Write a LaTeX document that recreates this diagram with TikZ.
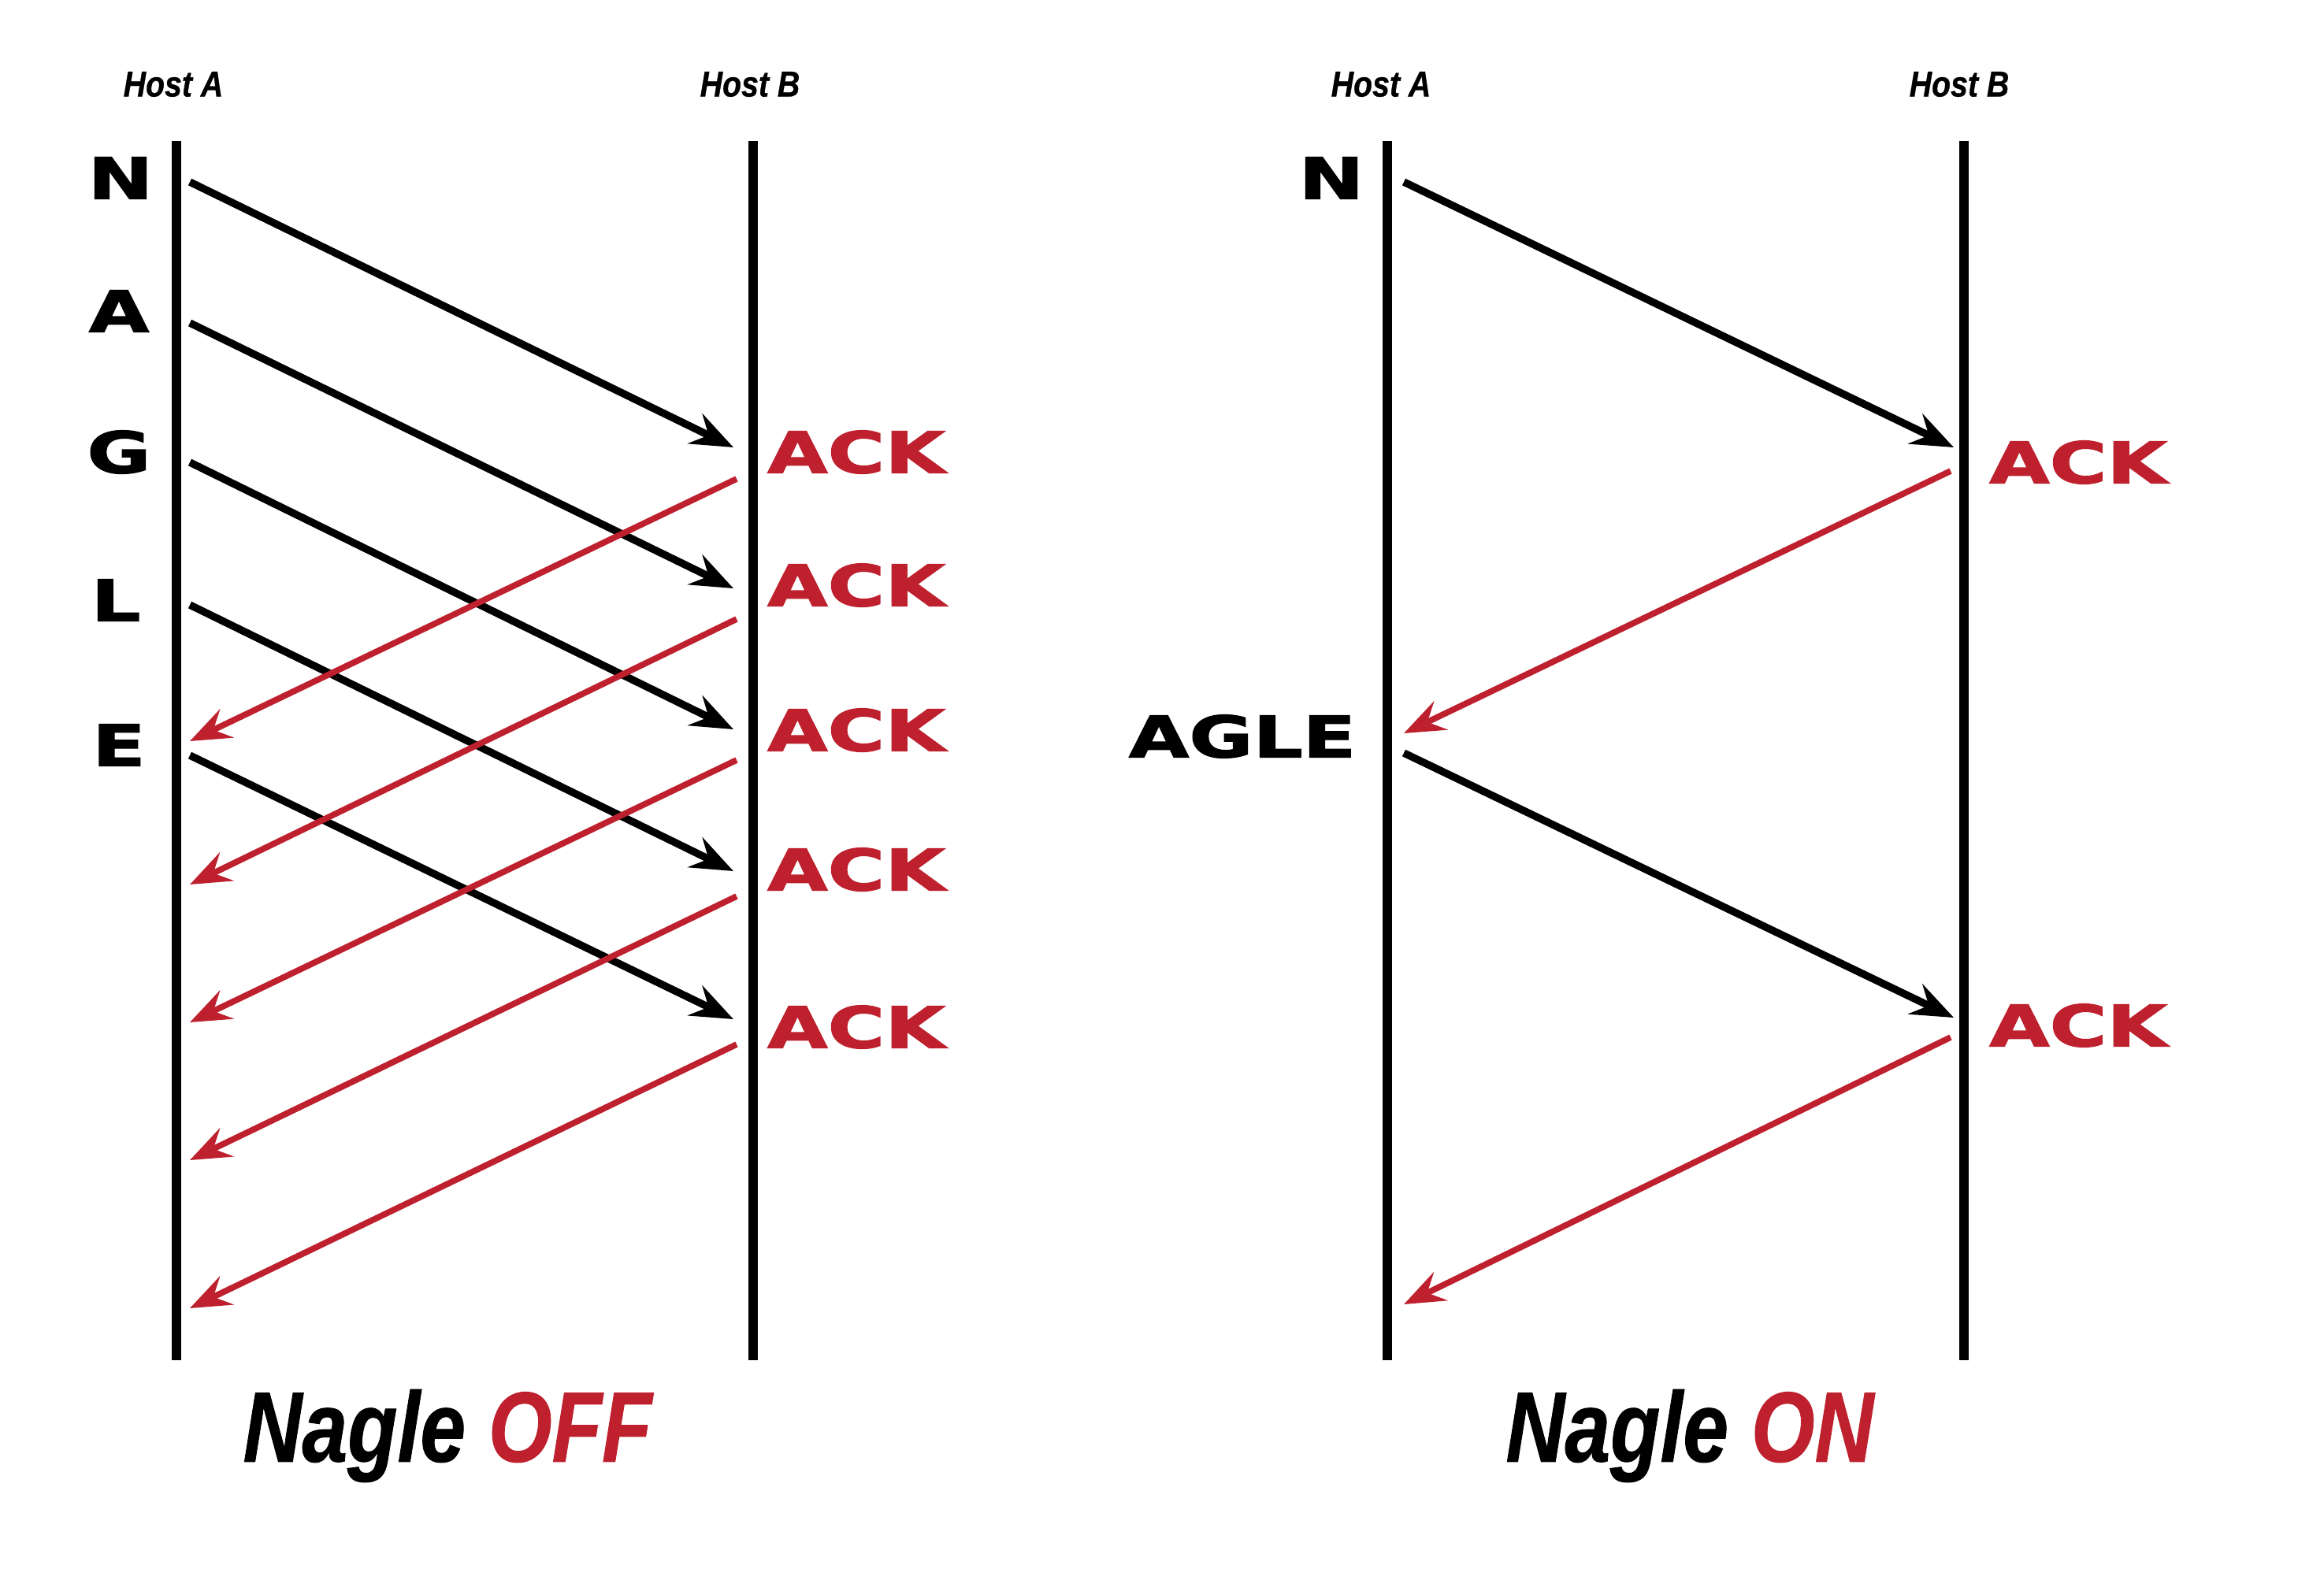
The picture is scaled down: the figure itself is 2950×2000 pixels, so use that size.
\documentclass[tikz,border=0pt]{standalone}
\usepackage{fontspec}
\setmainfont{Liberation Sans}
\newfontfamily\heavyfont{DejaVu Sans}[BoldFeatures={FakeBold=1.6}]
\newfontfamily\condfont{Liberation Sans}[BoldItalicFeatures={FakeBold=0.8}]
\usetikzlibrary{arrows.meta}
\definecolor{ackred}{RGB}{190,32,46}
\newcommand{\widetxt}[1]{\scalebox{1.36}[1]{#1}}
\newcommand{\hosttxt}[1]{\scalebox{0.86}[1]{#1}}
\newcommand{\titletxt}[1]{\scalebox{0.82}[1]{#1}}
\begin{document}
\begin{tikzpicture}[x=0.1mm,y=-0.1mm,
  life/.style={line width=3.3pt,black},
  msg/.style={line width=2.7pt,black,-{Stealth[length=5.4mm,width=4.2mm,inset=1.9mm]}},
  ackmsg/.style={line width=2.2pt,ackred,-{Stealth[length=5.2mm,width=4mm,inset=1.9mm]}},
  letter/.style={font=\heavyfont\bfseries\fontsize{20.7}{24}\selectfont,inner sep=0pt},
  acklbl/.style={letter,text=ackred},
  host/.style={font=\condfont\bfseries\itshape\fontsize{13}{15}\selectfont,inner sep=0pt},
  ttl/.style={font=\condfont\bfseries\itshape\fontsize{36}{40}\selectfont,inner sep=0pt}
]
\useasboundingbox (0,0) rectangle (2950,2000);
\fill[white] (0,0) rectangle (2950,2000);

% ---------------- Left panel: Nagle OFF ----------------
\node[host] (lha) at (220,107) {\hosttxt{Host A}};
\node[host] (lhb) at (952,107) {\hosttxt{Host B}};
\coordinate (lat) at (224,179); \coordinate (lab) at (224,1727);
\coordinate (lbt) at (956,179); \coordinate (lbb) at (956,1727);
\draw[life] (lat) -- (lab);
\draw[life] (lbt) -- (lbb);

\node[letter] (lN) at (153,226) {\widetxt{N}};
\node[letter] (lA) at (151,395) {\widetxt{A}};
\node[letter] (lG) at (151,574) {\widetxt{G}};
\node[letter] (lL) at (147,762) {\widetxt{L}};
\node[letter] (lE) at (151,946) {\widetxt{E}};

\node[acklbl] (lk1) at (1087,574) {\widetxt{ACK}};
\node[acklbl] (lk2) at (1087,743) {\widetxt{ACK}};
\node[acklbl] (lk3) at (1087,927) {\widetxt{ACK}};
\node[acklbl] (lk4) at (1087,1104) {\widetxt{ACK}};
\node[acklbl] (lk5) at (1087,1304) {\widetxt{ACK}};

% black data arrows
\coordinate (ls1) at (241,231);  \coordinate (le1) at (931,568);
\coordinate (ls2) at (241,410);  \coordinate (le2) at (931,747);
\coordinate (ls3) at (241,587);  \coordinate (le3) at (931,926);
\coordinate (ls4) at (241,768);  \coordinate (le4) at (931,1106);
\coordinate (ls5) at (241,959);  \coordinate (le5) at (931,1294);
\foreach \i in {1,...,5} \draw[msg] (ls\i) -- (le\i);

% red ack arrows
\coordinate (lr1) at (935,608);  \coordinate (lq1) at (241,941);
\coordinate (lr2) at (935,786);  \coordinate (lq2) at (241,1123);
\coordinate (lr3) at (935,965);  \coordinate (lq3) at (241,1298);
\coordinate (lr4) at (935,1138); \coordinate (lq4) at (241,1473);
\coordinate (lr5) at (935,1326); \coordinate (lq5) at (241,1661);
\foreach \i in {1,...,5} \draw[ackmsg] (lr\i) -- (lq\i);

\node[ttl] (loff) at (568,1823) {\titletxt{Nagle \textcolor{ackred}{OFF}}};

% ---------------- Right panel: Nagle ON ----------------
\node[host] (rha) at (1753,107) {\hosttxt{Host A}};
\node[host] (rhb) at (2487,107) {\hosttxt{Host B}};
\coordinate (rat) at (1761,179); \coordinate (rab) at (1761,1727);
\coordinate (rbt) at (2493,179); \coordinate (rbb) at (2493,1727);
\draw[life] (rat) -- (rab);
\draw[life] (rbt) -- (rbb);

\node[letter] (rN) at (1690,226) {\widetxt{N}};
\node[letter] (rAGLE) at (1577,935) {\widetxt{AGLE}};
\node[acklbl] (rk1) at (2638,587) {\widetxt{ACK}};
\node[acklbl] (rk2) at (2638,1302) {\widetxt{ACK}};

\coordinate (rs1) at (1782,231);  \coordinate (re1) at (2480,568);
\coordinate (rr1) at (2476,598);  \coordinate (rq1) at (1782,931);
\coordinate (rs2) at (1782,956);  \coordinate (re2) at (2480,1292);
\coordinate (rr2) at (2476,1317); \coordinate (rq2) at (1782,1656);
\draw[msg] (rs1) -- (re1);
\draw[ackmsg] (rr1) -- (rq1);
\draw[msg] (rs2) -- (re2);
\draw[ackmsg] (rr2) -- (rq2);

\node[ttl] (ron) at (2145,1823) {\titletxt{Nagle \textcolor{ackred}{ON}}};
\end{tikzpicture}
\end{document}
